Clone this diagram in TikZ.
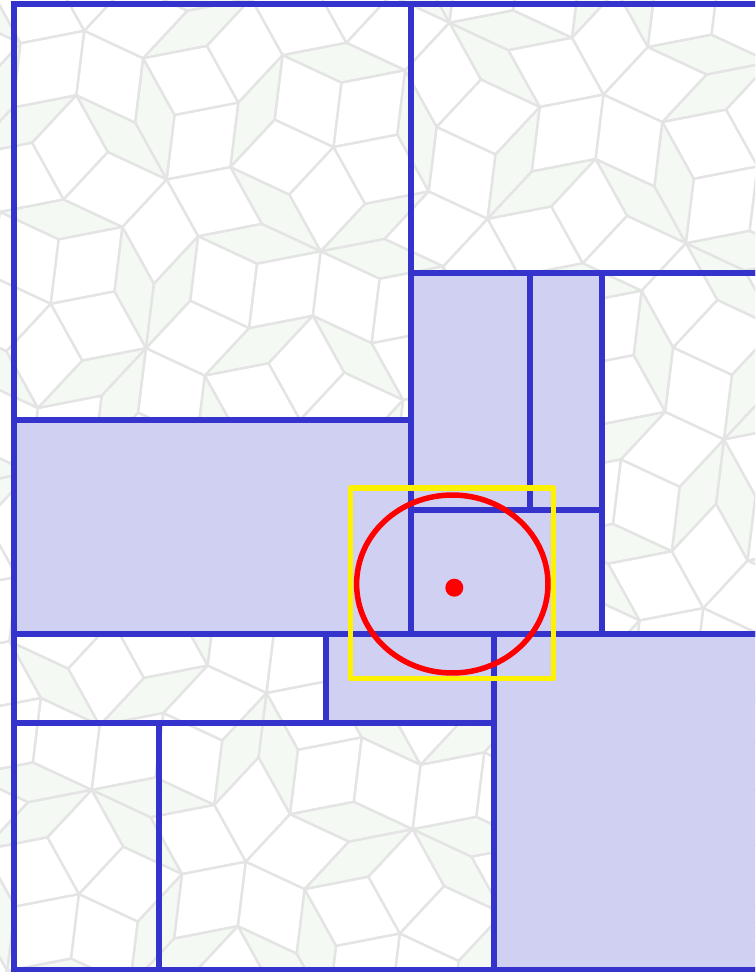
\documentclass[tikz,border=0pt]{standalone}
\definecolor{bluel}{RGB}{52,52,204}
\definecolor{lav}{RGB}{208,208,242}
\definecolor{tline}{RGB}{228,228,228}
\definecolor{tfill}{RGB}{244,249,244}
\tikzset{
  tilefill/.style={fill=tfill},
  tileline/.style={draw=tline,line width=0.045cm,line join=round},
  cellw/.style={draw=bluel,line width=0.11cm},
  celll/.style={draw=bluel,fill=lav,line width=0.11cm},
}
\def\prphi{0.6180340}
\newcommand\prleaf[7]{%
  \ifnum\prmode=0
    \ifnum#1=0 \fill[tilefill] (#2,#3) -- (#4,#5) -- (#6,#7) -- cycle;\fi
  \else
    \draw[tileline] (#6,#7) -- (#2,#3) -- (#4,#5);%
  \fi}
\newcommand\prt[8]{%
  \ifnum#1=0
    \prleaf{#2}{#3}{#4}{#5}{#6}{#7}{#8}%
  \else
    \begingroup
    \edef\prdd{\the\numexpr#1-1\relax}%
    \ifnum#2=0
      \pgfmathsetmacro\prPx{(#3)+((#5)-(#3))*\prphi}%
      \pgfmathsetmacro\prPy{(#4)+((#6)-(#4))*\prphi}%
      \edef\prtA{\noexpand\prt{\prdd}{0}{#7}{#8}{\prPx}{\prPy}{#5}{#6}}%
      \edef\prtB{\noexpand\prt{\prdd}{1}{\prPx}{\prPy}{#7}{#8}{#3}{#4}}%
      \begingroup\prtA\endgroup
      \begingroup\prtB\endgroup
    \else
      \pgfmathsetmacro\prQx{(#5)+((#3)-(#5))*\prphi}%
      \pgfmathsetmacro\prQy{(#6)+((#4)-(#6))*\prphi}%
      \pgfmathsetmacro\prRx{(#5)+((#7)-(#5))*\prphi}%
      \pgfmathsetmacro\prRy{(#6)+((#8)-(#6))*\prphi}%
      \edef\prtA{\noexpand\prt{\prdd}{1}{\prRx}{\prRy}{#7}{#8}{#3}{#4}}%
      \edef\prtB{\noexpand\prt{\prdd}{1}{\prQx}{\prQy}{\prRx}{\prRy}{#5}{#6}}%
      \edef\prtC{\noexpand\prt{\prdd}{0}{\prRx}{\prRy}{\prQx}{\prQy}{#3}{#4}}%
      \begingroup\prtA\endgroup
      \begingroup\prtB\endgroup
      \begingroup\prtC\endgroup
    \fi
    \endgroup
  \fi}
\newcommand\prwheel{%
  \foreach \pri in {0,...,9}{%
    \pgfmathsetmacro\prbx{300+720*cos((2*\pri-1)*18+7)}%
    \pgfmathsetmacro\prby{420+720*sin((2*\pri-1)*18+7)}%
    \pgfmathsetmacro\prcx{300+720*cos((2*\pri+1)*18+7)}%
    \pgfmathsetmacro\prcy{420+720*sin((2*\pri+1)*18+7)}%
    \ifodd\pri
      \edef\prtW{\noexpand\prt{5}{0}{300}{420}{\prbx}{\prby}{\prcx}{\prcy}}%
    \else
      \edef\prtW{\noexpand\prt{5}{0}{300}{420}{\prcx}{\prcy}{\prbx}{\prby}}%
    \fi
    \prtW}}
\begin{document}
\begin{tikzpicture}[x=0.02cm,y=-0.02cm]
  \useasboundingbox (0,0) rectangle (755,972);
  \clip (0,0) rectangle (755,972);
  \fill[white] (0,0) rectangle (755,972);
  % background tiling
  \def\prmode{0}\prwheel
  \def\prmode{1}\prwheel
  % cells
  \path[cellw] (14,4) rectangle (411,420);
  \path[cellw] (411,4) rectangle (770,273);
  \path[celll] (14,420) rectangle (411,634);
  \path[celll] (411,273) rectangle (530,510);
  \path[celll] (530,273) rectangle (602,510);
  \path[celll] (411,510) rectangle (602,634);
  \path[cellw] (602,273) rectangle (770,634);
  \path[cellw] (14,634) rectangle (326,723);
  \path[celll] (326,634) rectangle (494,723);
  \path[cellw] (14,723) rectangle (159,970);
  \path[cellw] (159,723) rectangle (494,970);
  \path[celll] (494,634) rectangle (770,970);
  % markers
  \draw[yellow,line width=0.105cm,line join=round] (350.5,488) rectangle (553.5,678.5);
  \draw[red,line width=0.11cm] (452.3,584) ellipse [x radius=1.914cm, y radius=1.78cm];
  \fill[red] (454.3,587.7) circle [radius=0.18cm];
\end{tikzpicture}
\end{document}
